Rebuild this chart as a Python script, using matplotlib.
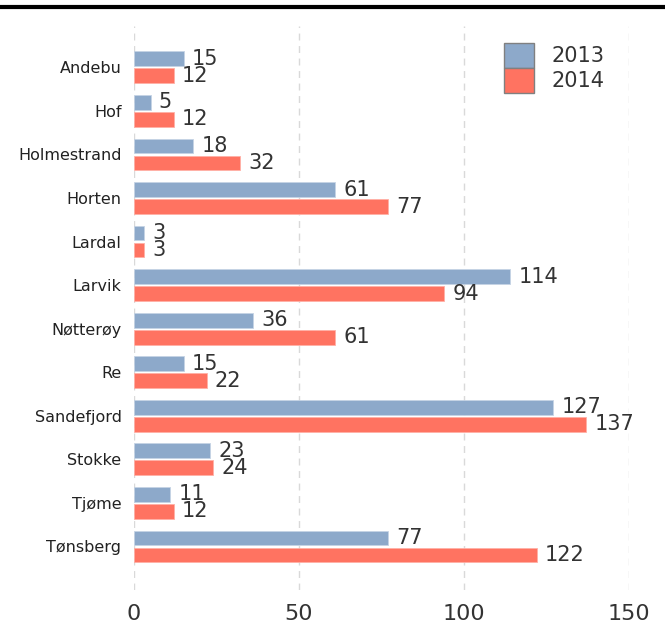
import matplotlib
matplotlib.use("Agg")
import matplotlib.pyplot as plt
from matplotlib.patches import Patch
from matplotlib.lines import Line2D
import numpy as np

categories = ["Andebu", "Hof", "Holmestrand", "Horten", "Lardal", "Larvik",
              "Nøtterøy", "Re", "Sandefjord", "Stokke", "Tjøme", "Tønsberg"]
values_2013 = [15, 5, 18, 61, 3, 114, 36, 15, 127, 23, 11, 77]
values_2014 = [12, 12, 32, 77, 3, 94, 61, 22, 137, 24, 12, 122]
series_names = ["2013", "2014"]
x_ticks = [0, 50, 100, 150]

c2013 = "#8DA9CA"
c2014 = "#FF7361"
text_col = "#333333"

W, H = 665, 623
fig = plt.figure(figsize=(W / 100, H / 100), dpi=100)
ax = fig.add_axes([134 / W, 1 - 590 / H, (629 - 134) / W, (590 - 26) / H])

y = np.arange(len(categories))
bh = 0.34
off = 0.195
ax.barh(y - off, values_2013, height=bh, color=c2013, edgecolor="#C5D3E4", linewidth=0.6, zorder=3)
ax.barh(y + off, values_2014, height=bh, color=c2014, edgecolor="#FFB0A6", linewidth=0.6, zorder=3)

for yi, v in zip(y, values_2013):
    ax.annotate(str(v), (v, yi - off), xytext=(6, 0), textcoords="offset points",
                ha="left", va="center", fontsize=15, color=text_col)
for yi, v in zip(y, values_2014):
    ax.annotate(str(v), (v, yi + off), xytext=(6, 0), textcoords="offset points",
                ha="left", va="center", fontsize=15, color=text_col)

ax.set_xlim(0, 150)
ax.set_ylim(len(categories) - 1 + 1.0, -0.95)
ax.set_yticks(y)
ax.set_yticklabels(categories, fontsize=11.5, color="#222222")
ax.set_xticks(x_ticks)
ax.set_xticklabels([str(t) for t in x_ticks], fontsize=16, color=text_col)
ax.tick_params(axis="both", length=0)
ax.tick_params(axis="y", pad=9)
ax.tick_params(axis="x", pad=10)
for s in ax.spines.values():
    s.set_visible(False)
ax.grid(axis="x", color="#D9D9D9", linestyle=(0, (5, 4)), linewidth=1, zorder=0)
ax.set_axisbelow(True)

handles = [Patch(facecolor=c2013, edgecolor="#808080", linewidth=1),
           Patch(facecolor=c2014, edgecolor="#808080", linewidth=1)]
leg = fig.legend(handles, series_names, loc="upper left",
                 bbox_to_anchor=(504 / W, 1 - 43 / H), bbox_transform=fig.transFigure,
                 frameon=False, fontsize=15, handlelength=1.44, handleheight=1.46,
                 labelspacing=0, handletextpad=0.85, borderpad=0, borderaxespad=0)
for t in leg.get_texts():
    t.set_color(text_col)

fig.add_artist(Line2D([0, 1], [1 - 7 / H, 1 - 7 / H], transform=fig.transFigure,
                      color="black", linewidth=3))

fig.savefig("out.png", dpi=100)
